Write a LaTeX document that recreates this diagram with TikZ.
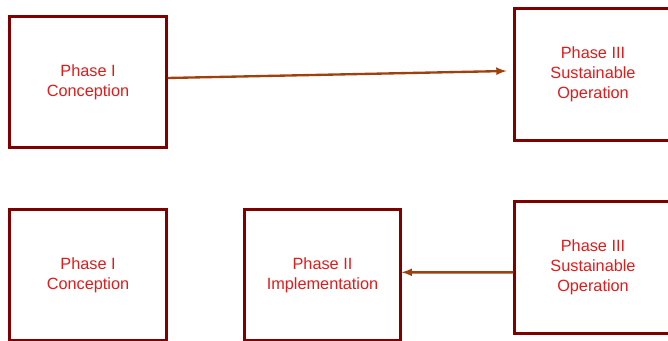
\documentclass[tikz,border=0pt]{standalone}
\usepackage{fontspec}
\setmainfont{Liberation Sans}
\usetikzlibrary{positioning,shapes,arrows}

\definecolor{boxred}{HTML}{800000}
\definecolor{txtred}{HTML}{E01B1B}
\definecolor{arrbrown}{HTML}{A0400C}

\begin{document}
\begin{tikzpicture}
            [auto=left,every node/.style={draw=boxred, rectangle, line width=2.4pt, text=txtred, align=center,
              inner sep=0pt, minimum width=4.7cm, minimum height=3.95cm, font=\fontsize{13.9}{17}\selectfont}]
          \useasboundingbox (0,0) rectangle (20.04,10.23);

          % top row
          \node (p1a) at (2.64,7.77) {Phase I\\Conception};
          \node (p3a) at (17.79,8.0) {Phase III\\Sustainable\\Operation};

          % bottom row
          \node (p1b) at (2.64,1.98) {Phase I\\Conception};
          \node (p2b) at (9.675,1.98) {Phase II\\Implementation};
          \node (p3b) at (17.79,2.2) {Phase III\\Sustainable\\Operation};

          \draw[arrbrown, line width=2pt, -latex] ([yshift=0.12cm]p1a.east) -- ([xshift=-0.2cm,yshift=0.1cm]p3a.west);
          \draw[arrbrown, line width=2pt, -latex] ([yshift=-0.14cm]p3b.west) -- ([xshift=-0.02cm,yshift=0.08cm]p2b.east);
        \end{tikzpicture}
\end{document}
